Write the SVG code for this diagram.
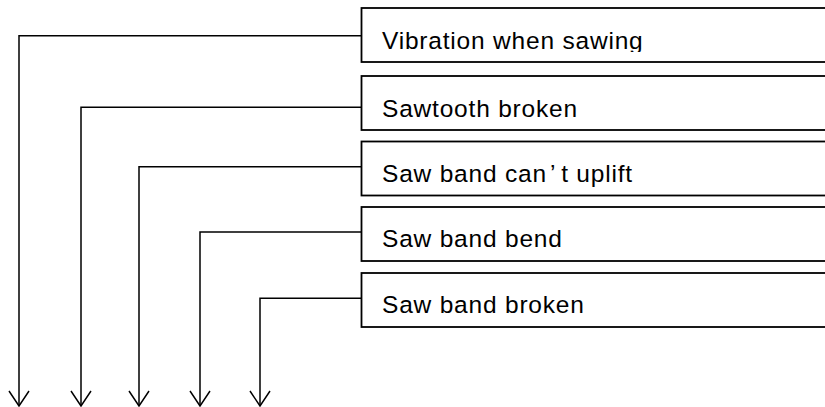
<svg xmlns="http://www.w3.org/2000/svg" width="825" height="407" viewBox="0 0 825 407">
  <style>
    .box { fill: #fff; stroke: #000; stroke-width: 1.8; }
    .lbl { font-family: "Liberation Sans", "Noto Sans CJK JP", sans-serif; font-size: 24.5px; letter-spacing: 0.8px; fill: #000; }
    .conn { fill: none; stroke: #000; stroke-width: 1.5; marker-end: url(#arr); }
  </style>
  <defs>
    <marker id="arr" markerUnits="userSpaceOnUse" markerWidth="20" markerHeight="24" refX="16" refY="11" orient="auto" viewBox="0 0 20 24" overflow="visible">
      <path d="M1,1 L16,11 L1,21" fill="none" stroke="#000" stroke-width="1.5"/>
    </marker>
    <clipPath id="clip1"><rect x="362" y="8" width="470" height="44"/></clipPath>
  </defs>
  <rect width="825" height="407" fill="#fff"/>
  <g id="connectors">
    <path class="conn" d="M362,35.7 H19 V406"/>
    <path class="conn" d="M362,107.3 H81 V406"/>
    <path class="conn" d="M362,166.7 H139 V406"/>
    <path class="conn" d="M362,232 H200 V406"/>
    <path class="conn" d="M362,298.3 H260 V406"/>
  </g>
  <g id="n1">
    <rect class="box" x="361.5" y="8" width="480" height="54"/>
    <text class="lbl" x="382" y="49" clip-path="url(#clip1)">Vibration when sawing</text>
  </g>
  <g id="n2">
    <rect class="box" x="361.5" y="76" width="480" height="54"/>
    <text class="lbl" x="382" y="117">Sawtooth broken</text>
  </g>
  <g id="n3">
    <rect class="box" x="361.5" y="141.5" width="480" height="54"/>
    <text class="lbl" x="382" y="181.5">Saw band can<tspan dx="3">’</tspan><tspan dx="5">t uplift</tspan></text>
  </g>
  <g id="n4">
    <rect class="box" x="361.5" y="207" width="480" height="54"/>
    <text class="lbl" x="382" y="247">Saw band bend</text>
  </g>
  <g id="n5">
    <rect class="box" x="361.5" y="273" width="480" height="54"/>
    <text class="lbl" x="382" y="313">Saw band broken</text>
  </g>
</svg>
